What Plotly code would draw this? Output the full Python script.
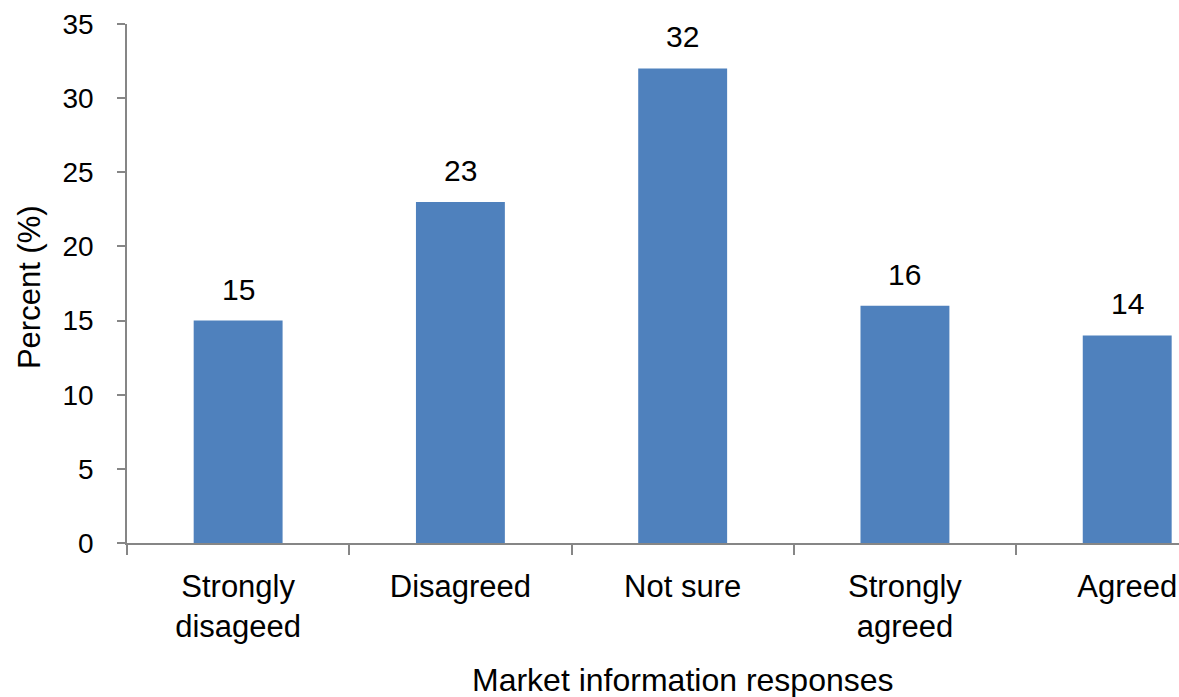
import plotly.graph_objects as go

categories = ["Strongly<br>disageed", "Disagreed", "Not sure", "Strongly<br>agreed", "Agreed"]
percent = [15, 23, 32, 16, 14]
y_ticks = [0, 5, 10, 15, 20, 25, 30, 35]

FONT = "Liberation Sans, Arial, sans-serif"
AXIS_GREY = "#868686"

fig = go.Figure()
fig.add_trace(go.Bar(
    x=categories,
    y=percent,
    marker=dict(color="#4F81BD", line=dict(width=0)),
    hoverinfo="x+y",
))

# value labels above each bar
for cat, val in zip(categories, percent):
    fig.add_annotation(
        x=cat, y=val, xref="x", yref="y",
        text=str(val), showarrow=False,
        yanchor="bottom", yshift=13,
        font=dict(family=FONT, size=30, color="#000000"),
    )

fig.update_layout(
    width=1179, height=697,
    margin=dict(l=127, r=0, t=24, b=154),
    paper_bgcolor="white", plot_bgcolor="white",
    bargap=0.6,
    showlegend=False,
    font=dict(family=FONT, color="#000000"),
)

fig.update_xaxes(
    type="category",
    range=[-0.5, 4.233],
    showline=True, linecolor=AXIS_GREY, linewidth=1.5,
    ticks="outside", tickson="boundaries", ticklen=10,
    tickcolor=AXIS_GREY, tickwidth=1.5,
    showgrid=False, zeroline=False,
    tickfont=dict(family=FONT, size=31, color="#000000"),
    ticklabelstandoff=15,
)

fig.update_yaxes(
    range=[0, 35],
    tickvals=y_ticks,
    showline=True, linecolor=AXIS_GREY, linewidth=1.5,
    ticks="outside", ticklen=8, tickcolor=AXIS_GREY, tickwidth=1.5,
    showgrid=False, zeroline=False,
    tickfont=dict(family=FONT, size=28, color="#000000"),
    ticklabelstandoff=18,
)

# axis titles
fig.add_annotation(
    x=0.5285, y=-0.264, xref="paper", yref="paper",
    text="Market information responses", showarrow=False,
    xanchor="center", yanchor="middle",
    font=dict(family=FONT, size=32, color="#000000"),
)
fig.add_annotation(
    x=-0.0932, y=0.493, xref="paper", yref="paper",
    text="Percent (%)", showarrow=False, textangle=-90,
    xanchor="center", yanchor="middle",
    font=dict(family=FONT, size=31, color="#000000"),
)

fig.write_html("out.html")
